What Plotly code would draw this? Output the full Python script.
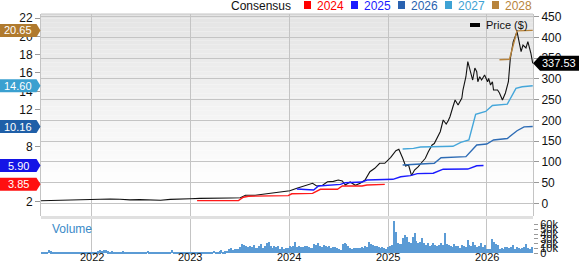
import plotly.graph_objects as go
import pandas as pd

# ---------------- data ----------------
price_dates = [
    "2021-06-28", "2021-07-31", "2021-09-06", "2021-10-12", "2021-11-21", "2022-01-01",
    "2022-02-03", "2022-03-11", "2022-04-16", "2022-05-23", "2022-06-28", "2022-08-04",
    "2022-09-13", "2022-10-19", "2022-11-24", "2023-01-01", "2023-02-06", "2023-03-15",
    "2023-04-23", "2023-05-30", "2023-07-05", "2023-07-24", "2023-08-29", "2023-10-04",
    "2023-11-10", "2023-12-05", "2024-01-04", "2024-01-30", "2024-02-28", "2024-03-28",
    "2024-04-12", "2024-05-04", "2024-05-22", "2024-06-13", "2024-07-01", "2024-07-16",
    "2024-07-27", "2024-08-14", "2024-09-02", "2024-09-20", "2024-10-08", "2024-10-26",
    "2024-11-13", "2024-12-01", "2024-12-20", "2025-01-11", "2025-01-30", "2025-02-10",
    "2025-02-24", "2025-03-07", "2025-03-18", "2025-03-29", "2025-04-09", "2025-04-23",
    "2025-05-04", "2025-05-19", "2025-05-30", "2025-06-13", "2025-06-21", "2025-07-02",
    "2025-07-13", "2025-07-24", "2025-08-04", "2025-08-11", "2025-08-18", "2025-08-29",
    "2025-09-06", "2025-09-17", "2025-10-01", "2025-10-05", "2025-10-16", "2025-10-23",
    "2025-11-03", "2025-11-10", "2025-11-18", "2025-11-25", "2025-11-29", "2025-12-06",
    "2025-12-13", "2025-12-24", "2026-01-04", "2026-01-08", "2026-01-15", "2026-01-22",
    "2026-01-26", "2026-02-10", "2026-02-17", "2026-02-28", "2026-03-11", "2026-03-22",
    "2026-03-29", "2026-04-09", "2026-04-23", "2026-05-01", "2026-05-08", "2026-05-15",
    "2026-05-26", "2026-06-02", "2026-06-13", "2026-06-20",
]
price_values = [
    6.3, 6.8, 7.2, 8.0, 9.2, 9.6,
    10.9, 10.4, 9.9, 8.4, 8.9, 8.4,
    7.5, 9.4, 9.6, 11.1, 12.0, 12.0,
    11.6, 12.8, 13.5, 19.3, 19.5, 22.4,
    25.6, 26.5, 30.4, 36.2, 42.4, 48.2,
    41.7, 43.4, 52.1, 53.0, 56.2, 53.8,
    44.1, 51.4, 43.4, 48.2, 56.2, 76.2,
    84.4, 96.5, 96.5, 110.9, 126.8, 130.2,
    109.2, 90.0, 92.4, 67.0, 80.3, 88.3,
    97.2, 108.5, 124.4, 140.6, 144.2, 160.6,
    172.7, 200.9, 191.2, 198.5, 208.8, 232.9,
    249.1, 237.0, 253.9, 273.2, 305.3, 341.5,
    314.2, 297.3, 326.3, 317.3, 293.2, 305.3,
    297.3, 309.4, 293.2, 301.4, 285.3, 293.2,
    273.2, 273.2, 266.0, 249.1, 266.0, 293.2,
    348.2, 389.7, 413.8, 386.5, 365.6, 381.7,
    374.5, 389.7, 362.4, 337.53,
]

eps_2024_dates = ["2023-01-26", "2023-06-28", "2023-07-16", "2023-08-04", "2023-12-29",
                  "2024-01-11", "2024-03-28", "2024-04-12", "2024-04-26", "2024-06-28",
                  "2024-07-16", "2024-09-27", "2024-10-15", "2024-12-20"]
eps_2024 = [2.07, 2.07, 2.44, 2.55, 2.62, 2.82, 2.87, 3.10, 3.31, 3.31, 3.67, 3.67, 3.78, 3.85]

eps_2025_dates = ["2024-01-30", "2024-04-01", "2024-04-19", "2024-07-09", "2024-07-27",
                  "2024-09-27", "2024-10-15", "2025-01-19", "2025-02-17", "2025-03-25",
                  "2025-04-19", "2025-06-17", "2025-07-24", "2025-10-23", "2025-11-25",
                  "2025-12-20"]
eps_2025 = [3.34, 3.23, 3.67, 3.85, 4.03, 4.10, 4.32, 4.40, 4.68, 4.80, 5.02, 5.06, 5.50,
            5.52, 5.88, 5.90]

eps_2026_dates = ["2025-02-24", "2025-05-01", "2025-06-21", "2025-07-16", "2025-10-16",
                  "2025-11-25", "2026-01-01", "2026-01-26", "2026-03-18", "2026-04-23",
                  "2026-05-19", "2026-06-20"]
eps_2026 = [5.96, 6.10, 6.15, 6.75, 6.87, 8.15, 8.25, 8.69, 8.85, 9.70, 10.12, 10.16]

eps_2027_dates = ["2025-02-24", "2025-04-05", "2025-05-01", "2025-08-29", "2025-09-27",
                  "2025-10-27", "2025-11-21", "2025-12-28", "2026-01-22", "2026-03-18",
                  "2026-04-19", "2026-05-12", "2026-06-20"]
eps_2027 = [7.71, 7.78, 7.92, 8.00, 8.44, 8.69, 11.50, 11.80, 12.45, 12.60, 14.33, 14.50, 14.60]

eps_2028_dates = ["2026-02-17", "2026-03-26", "2026-04-23", "2026-06-20"]
eps_2028 = [17.45, 17.50, 20.60, 20.65]

volume_start = "2021-07-01"
volume_k = [
    3, 3, 2, 3, 6, 4, 3, 2, 3, 2, 2, 3, 2, 3, 2, 2, 3, 2, 2, 3, 2, 3, 3, 2, 3, 2,
    3, 2, 3, 3, 4, 6, 5, 7, 6, 4, 3, 4, 3, 3, 2, 3, 3, 4, 3, 2, 3, 2, 2, 3, 2, 3,
    2, 3, 2, 3, 5, 3, 2, 2, 3, 2, 3, 2, 2, 3, 2, 3, 3, 6, 3, 2, 2, 3, 2, 2, 3, 2,
    3, 2, 3, 2, 2, 3, 3, 2, 3, 2, 3, 3, 3, 5, 3, 3, 4, 6, 3, 4, 5, 8, 12, 7, 9, 8,
    10, 14, 19, 17, 15, 13, 15, 14, 17, 12, 12, 15, 19, 12, 15, 22, 24, 15, 12, 15, 13, 15, 10, 13, 10, 12,
    12, 15, 14, 16, 24, 13, 15, 13, 14, 15, 15, 14, 12, 11, 19, 18, 22, 15, 14, 17, 16, 13, 15, 12, 14, 13,
    12, 8, 7, 20, 22, 19, 15, 11, 10, 12, 11, 12, 12, 13, 12, 15, 14, 24, 19, 18, 15, 15, 13, 12, 14, 12,
    10, 14, 15, 18, 68, 45, 22, 19, 20, 31, 38, 33, 24, 21, 35, 43, 26, 21, 24, 31, 22, 17, 22, 15, 18, 21,
    17, 15, 18, 22, 17, 42, 19, 17, 15, 14, 19, 15, 16, 12, 17, 15, 14, 28, 18, 16, 24, 18, 14, 16, 22, 14,
    17, 8, 9, 10, 30, 24, 20, 17, 10, 12, 10, 13, 14, 12, 14, 17, 10, 14, 12, 10, 12, 14, 19, 12, 8, 14,
]
volume_dates = pd.date_range(volume_start, periods=len(volume_k), freq="7D")

year_ticks = ["2022-01-01", "2023-01-01", "2024-01-01", "2025-01-01", "2026-01-01"]
year_labels = ["2022", "2023", "2024", "2025", "2026"]
price_ticks = [0, 50, 100, 150, 200, 250, 300, 350, 400, 450]
eps_ticks = [2, 4, 6, 8, 10, 12, 14, 16, 18, 20, 22]
vol_ticks = [0, 10, 20, 30, 40, 50, 60]
vol_labels = ["0", "10k", "20k", "30k", "40k", "50k", "60k"]

series = [
    ("2024", eps_2024_dates, eps_2024, "#ff1a1a", "#ff0000", "#ff1010"),
    ("2025", eps_2025_dates, eps_2025, "#1a1aff", "#1a1aff", "#1414e6"),
    ("2026", eps_2026_dates, eps_2026, "#2e6cb5", "#2a62b0", "#1f5fa8"),
    ("2027", eps_2027_dates, eps_2027, "#44a6da", "#3ea2d4", "#3aa0d0"),
    ("2028", eps_2028_dates, eps_2028, "#b8843c", "#b8843c", "#b07a2e"),
]

# ---------------- layout geometry ----------------
W, H = 579, 264
ML, MR, MT, MB = 41, 46, 14, 10
PW = W - ML - MR
PH = H - MT - MB
FONT = "Liberation Sans, Arial, sans-serif"
GRID = "#c4c4c4"


def px_x(px):
    return (px - ML) / PW


def px_y(py):
    return (H - MB - py) / PH


price_dom = [px_y(216), 1.0]
vol_dom = [0.0, px_y(219)]

fig = go.Figure()

# volume
fig.add_trace(go.Bar(x=volume_dates, y=volume_k, yaxis="y3", xaxis="x",
                     marker=dict(color="#5b9bd5", line=dict(width=0)),
                     width=5.5 * 86400000, hoverinfo="skip"))

# consensus lines
for name, d, v, lc, tc, bc in series:
    fig.add_trace(go.Scatter(x=d, y=v, yaxis="y2", mode="lines",
                             line=dict(color=lc, width=1.4), name=name))

# price
fig.add_trace(go.Scatter(x=price_dates, y=price_values, yaxis="y", mode="lines",
                         line=dict(color="#111111", width=1.1), name="Price ($)"))

shapes = []
annotations = []

# background gradient for price panel
N = 40
top_px, bot_px = 14, 190
for i in range(N):
    y0 = top_px + (bot_px - top_px) * i / N
    y1 = top_px + (bot_px - top_px) * (i + 1) / N
    c = int(round(228 + (255 - 228) * (i + 0.5) / N))
    shapes.append(dict(type="rect", xref="paper", yref="paper", x0=0, x1=1,
                       y0=px_y(y1), y1=px_y(y0), fillcolor=f"rgb({c},{c},{c})",
                       line=dict(width=0), layer="below"))

# top frame line
shapes.append(dict(type="line", xref="paper", yref="paper", x0=0, x1=1, y0=1, y1=1,
                   line=dict(color=GRID, width=1)))
# separator band
shapes.append(dict(type="rect", xref="paper", yref="paper", x0=0, x1=1,
                   y0=vol_dom[1], y1=price_dom[0], fillcolor="#e0e0e0",
                   line=dict(width=0), layer="above"))

# left badges (anchored to consensus axis)
for name, d, v, lc, tc, bc in series:
    val = v[-1]
    shapes.append(dict(type="path", xref="paper", yref="y2", xsizemode="pixel",
                       ysizemode="pixel", xanchor=0, yanchor=val,
                       path="M -41,-6.5 L -4.5,-6.5 L -0.5,0 L -4.5,6.5 L -41,6.5 Z",
                       fillcolor=bc, line=dict(width=0), layer="above"))
    annotations.append(dict(xref="paper", yref="y2", x=px_x(18), y=val,
                            text=f"{val:.2f}", showarrow=False, xanchor="center",
                            yanchor="middle", font=dict(family=FONT, size=11, color="white")))

# right price badge
last_price = price_values[-1]
shapes.append(dict(type="path", xref="paper", yref="y", xsizemode="pixel",
                   ysizemode="pixel", xanchor=1, yanchor=last_price,
                   path="M 0,0 L 7,7.5 L 46,7.5 L 46,-7.5 L 7,-7.5 Z",
                   fillcolor="#000000", line=dict(width=0), layer="above"))
annotations.append(dict(xref="paper", yref="y", x=px_x(559), y=last_price,
                        text=f"{last_price:.2f}", showarrow=False, xanchor="center",
                        yanchor="middle", font=dict(family=FONT, size=11, color="white")))

# top legend
annotations.append(dict(xref="paper", yref="paper", x=px_x(229), y=px_y(5.5),
                        text="Consensus", showarrow=False, xanchor="left", yanchor="middle",
                        font=dict(family=FONT, size=12, color="#111111")))
for k, (name, d, v, lc, tc, bc) in enumerate(series):
    tx = 316 + 47 * k
    shapes.append(dict(type="rect", xref="paper", yref="paper",
                       x0=px_x(tx - 12), x1=px_x(tx - 5), y0=px_y(9), y1=px_y(1),
                       fillcolor=tc, line=dict(width=0)))
    annotations.append(dict(xref="paper", yref="paper", x=px_x(tx - 1), y=px_y(5.5),
                            text=name, showarrow=False, xanchor="left", yanchor="middle",
                            font=dict(family=FONT, size=12, color=tc)))

# price legend inside plot
shapes.append(dict(type="rect", xref="paper", yref="paper", x0=px_x(470), x1=px_x(480),
                   y0=px_y(27), y1=px_y(23), fillcolor="#000000", line=dict(width=0)))
annotations.append(dict(xref="paper", yref="paper", x=px_x(484), y=px_y(25),
                        text="Price ($)", showarrow=False, xanchor="left", yanchor="middle",
                        font=dict(family=FONT, size=11, color="#111111")))

# volume label
annotations.append(dict(xref="paper", yref="paper", x=px_x(50), y=px_y(229),
                        text="Volume", showarrow=False, xanchor="left", yanchor="middle",
                        font=dict(family=FONT, size=12, color="#3a8ac8")))

# year labels along the date axis
for d, lab in zip(year_ticks, year_labels):
    annotations.append(dict(xref="x", yref="paper", x=d, y=px_y(264),
                            text=lab, showarrow=False, xanchor="center", yanchor="bottom",
                            borderpad=0,
                            font=dict(family=FONT, size=11, color="#111111")))

fig.update_layout(
    width=W, height=H,
    margin=dict(l=ML, r=MR, t=MT, b=MB, pad=0, autoexpand=False),
    paper_bgcolor="white", plot_bgcolor="white",
    showlegend=False,
    bargap=0,
    font=dict(family=FONT, size=12, color="#111111"),
    xaxis=dict(type="date", domain=[0, 1], anchor="y3", automargin=False,
               range=["2021-06-28", "2026-06-21"],
               tickvals=year_ticks, showticklabels=False,
               showgrid=True, gridcolor=GRID, gridwidth=1,
               ticks="", zeroline=False, showline=False),
    yaxis=dict(domain=price_dom, anchor="x", side="right", automargin=False,
               range=[-30.6, 456.5], tickvals=price_ticks,
               showgrid=True, gridcolor=GRID, gridwidth=1,
               ticks="outside", ticklen=5, tickcolor="#999999",
               tickfont=dict(size=12, color="#111111"),
               showline=True, linecolor=GRID, zeroline=False),
    yaxis2=dict(overlaying="y", side="left", anchor="x", automargin=False,
                range=[0.396, 22.437], tickvals=eps_ticks,
                showgrid=False, ticks="outside", ticklen=5, tickcolor="#999999",
                tickfont=dict(size=12, color="#111111"),
                showline=True, linecolor=GRID, zeroline=False),
    yaxis3=dict(domain=vol_dom, anchor="x", side="right", automargin=False,
                range=[-1.4, 71.5], tickvals=vol_ticks, ticktext=vol_labels,
                showgrid=False, ticks="outside", ticklen=4, tickcolor="#999999",
                tickfont=dict(size=11, color="#111111"),
                showline=False, zeroline=False),
    shapes=shapes,
    annotations=annotations,
)

fig.write_html("out.html")
